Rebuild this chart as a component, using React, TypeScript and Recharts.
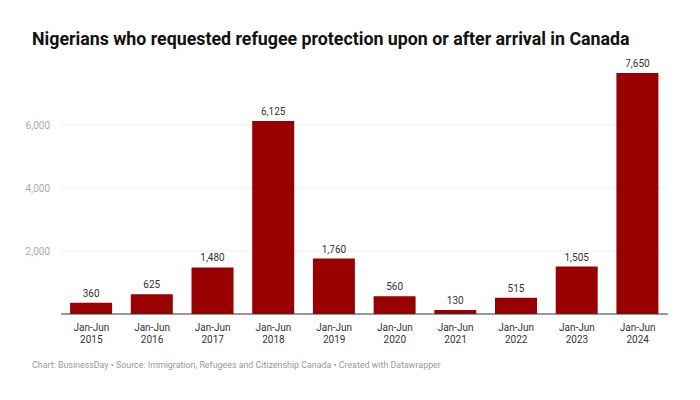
import React from 'react';
import { BarChart, Bar, XAxis, YAxis, CartesianGrid, LabelList } from 'recharts';

const periods = ['2015', '2016', '2017', '2018', '2019', '2020', '2021', '2022', '2023', '2024'];
const claims = [360, 625, 1480, 6125, 1760, 560, 130, 515, 1505, 7650];
const yTicks = [0, 2000, 4000, 6000];
const gridTicks = [2000, 4000, 6000];

const data = periods.map((year, i) => ({ year, claims: claims[i] }));

const font = 'Roboto, sans-serif';

const YearTick = (props: any) => {
  const { x, y, payload } = props;
  return (
    <text x={x} y={y} textAnchor="middle" fontFamily={font} fontSize={10} fill="#333">
      <tspan x={x} dy={9}>Jan-Jun</tspan>
      <tspan x={x} dy={11.5}>{payload.value}</tspan>
    </text>
  );
};

const App = () => {
  return (
    <div style={{ position: 'relative', width: 700, height: 400, margin: -8, background: '#fff', overflow: 'hidden' }}>
      <div style={{ position: 'absolute', left: 32, top: 28, fontFamily: font, fontWeight: 700, fontSize: 17.8, color: '#111', whiteSpace: 'nowrap' }}>
        Nigerians who requested refugee protection upon or after arrival in Canada
      </div>
      <div style={{ position: 'absolute', left: 0, top: 0 }}>
        <BarChart
          width={700}
          height={400}
          data={data}
          barCategoryGap="15%"
          margin={{ top: 73, right: 32, bottom: 56, left: 33 }}
        >
          <CartesianGrid vertical={false} stroke="#eee" horizontalValues={gridTicks} />
          <XAxis
            dataKey="year"
            tick={<YearTick />}
            tickLine={false}
            axisLine={{ stroke: '#333' }}
            interval={0}
            height={30}
          />
          <YAxis
            width={28}
            domain={[0, 7650]}
            ticks={yTicks}
            axisLine={false}
            tickLine={false}
            tickMargin={5}
            tickFormatter={(v: number) => (v === 0 ? '' : v.toLocaleString('en-US'))}
            tick={{ fontFamily: font, fontSize: 10, fill: '#aaa' }}
          />
          <Bar dataKey="claims" fill="#990000" isAnimationActive={false}>
            <LabelList
              dataKey="claims"
              position="top"
              offset={6}
              formatter={(v: number) => v.toLocaleString('en-US')}
              style={{ fontFamily: font, fontSize: 10, fill: '#333' }}
            />
          </Bar>
        </BarChart>
      </div>
      <div style={{ position: 'absolute', left: 32, top: 360, fontFamily: font, fontSize: 8.87, color: '#999', whiteSpace: 'nowrap' }}>
        Chart: BusinessDay • Source: Immigration, Refugees and Citizenship Canada • Created with Datawrapper
      </div>
    </div>
  );
};

export default App;
